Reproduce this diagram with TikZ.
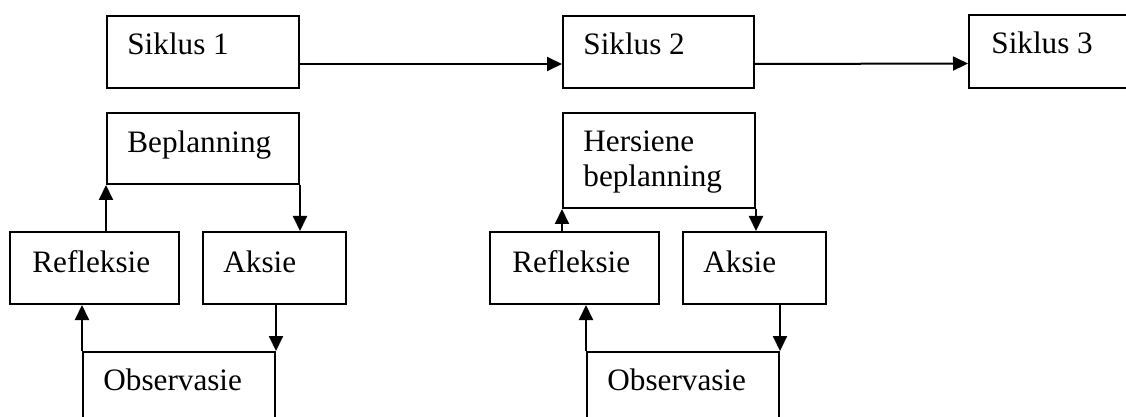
\documentclass[tikz,border=0pt]{standalone}
\usepackage{fontspec}
\setmainfont{Liberation Serif}
\usepackage{tikz}
\usetikzlibrary{arrows.meta,positioning}

\begin{document}
\begin{tikzpicture}[x=0.5pt,y=-0.5pt,
    box/.style={draw, line width=1pt, rectangle, inner sep=0pt, anchor=north west},
    boxtext/.style={anchor=base west, inner sep=0pt, align=left,
        font=\fontsize{15.6}{17.5}\selectfont},
    arr/.style={-{Triangle[length=7.5pt,width=7pt]}, line width=1pt}]
    \clip (0,0) rectangle (1126,417);
    % Siklus boxes
    \node[box, minimum width=96pt, minimum height=36pt] (s1) at (106,15) {};
    \node[box, minimum width=95.5pt, minimum height=36pt] (s2) at (562,15) {};
    \node[box, minimum width=100pt, minimum height=36.5pt] (s3) at (968,14) {};
    \node[boxtext] (s1t) at ([shift={(21,40)}]s1.north west) {Siklus 1};
    \node[boxtext] (s2t) at ([shift={(21,40)}]s2.north west) {Siklus 2};
    \node[boxtext] (s3t) at ([shift={(23,40)}]s3.north west) {Siklus 3};
    % Cycle 1
    \node[box, minimum width=96pt, minimum height=35.5pt] (plan1) at (106,112) {};
    \node[box, minimum width=84.5pt, minimum height=36pt] (refl1) at (9,231) {};
    \node[box, minimum width=71.5pt, minimum height=36pt] (aksie1) at (202,231) {};
    \node[box, minimum width=96pt, minimum height=45pt] (obs1) at (82,351) {};
    \node[boxtext] (plan1t) at ([shift={(21,41)}]plan1.north west) {Beplanning};
    \node[boxtext] (refl1t) at ([shift={(23,41)}]refl1.north west) {Refleksie};
    \node[boxtext] (aksie1t) at ([shift={(21,41)}]aksie1.north west) {Aksie};
    \node[boxtext] (obs1t) at ([shift={(21,39)}]obs1.north west) {Observasie};
    % Cycle 2
    \node[box, minimum width=96pt, minimum height=47.5pt] (plan2) at (562,112) {};
    \node[box, minimum width=84.5pt, minimum height=36pt] (refl2) at (489,231) {};
    \node[box, minimum width=71.5pt, minimum height=36pt] (aksie2) at (682,231) {};
    \node[box, minimum width=96pt, minimum height=45pt] (obs2) at (586,351) {};
    % (base of a two-line node is its last line)
    \node[boxtext] (plan2t) at ([shift={(21,75)}]plan2.north west) {Hersiene\\beplanning};
    \node[boxtext] (refl2t) at ([shift={(23,41)}]refl2.north west) {Refleksie};
    \node[boxtext] (aksie2t) at ([shift={(21,41)}]aksie2.north west) {Aksie};
    \node[boxtext] (obs2t) at ([shift={(21,39)}]obs2.north west) {Observasie};
    % Arrows between cycles
    \draw[arr] ([yshift=-6pt]s1.east) -- ([yshift=-6pt]s2.west);
    \draw[arr] ([yshift=-6pt]s2.east) -- ([yshift=-6pt]s3.west);
    % Arrows in the loops
    \foreach \i in {1,2}{
        \draw[arr] (plan\i.south west |- refl\i.north) -- (plan\i.south west);
        \draw[arr] (plan\i.south east) -- (plan\i.south east |- aksie\i.north);
        \draw[arr] (obs\i.north east |- aksie\i.south) -- (obs\i.north east);
        \draw[arr] (obs\i.north west) -- (obs\i.north west |- refl\i.south);
    }
\end{tikzpicture}
\end{document}
